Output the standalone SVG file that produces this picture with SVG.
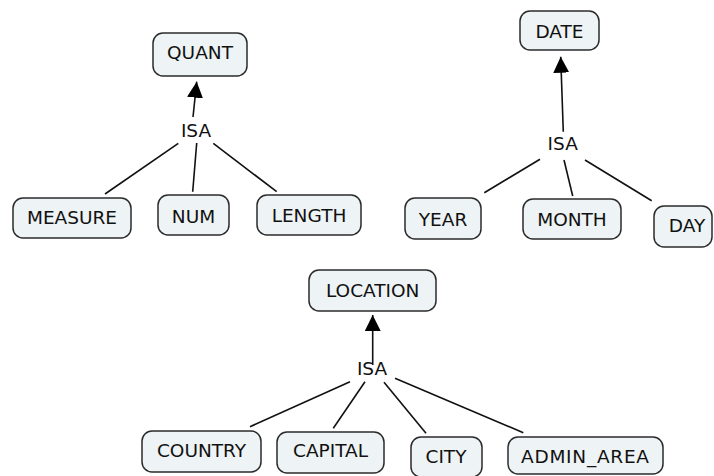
<svg xmlns="http://www.w3.org/2000/svg" width="714" height="476" viewBox="0 0 714 476">
<defs>
<marker id="arr" viewBox="0 0 16 16" refX="16" refY="8" markerWidth="16" markerHeight="16" markerUnits="userSpaceOnUse" orient="auto">
<path d="M0,0 L16,8 L0,16 z" fill="#000"/>
</marker>
<style>
.box{fill:#eef3f5;stroke:#2b2b2b;stroke-width:1.5}
.t{font-family:"DejaVu Sans","Verdana",sans-serif;font-size:18.5px;fill:#111;text-anchor:middle}
.c{stroke:#111;stroke-width:1.6;fill:none}
</style>
</defs>
<rect width="714" height="476" fill="#fff"/>
<g id="connectors">
<line class="c" x1="193" y1="117" x2="196.7" y2="81.7" marker-end="url(#arr)"/>
<line class="c" x1="178.3" y1="143.3" x2="105" y2="194"/>
<line class="c" x1="196.7" y1="143" x2="192.7" y2="191.7"/>
<line class="c" x1="213.3" y1="143.3" x2="276.7" y2="191.7"/>
<line class="c" x1="563.3" y1="131.7" x2="560.7" y2="56.7" marker-end="url(#arr)"/>
<line class="c" x1="540" y1="159.3" x2="484.3" y2="192.7"/>
<line class="c" x1="564" y1="160" x2="572.7" y2="196"/>
<line class="c" x1="585" y1="160" x2="651.7" y2="200.7"/>
<line class="c" x1="372.7" y1="365" x2="372.7" y2="315" marker-end="url(#arr)"/>
<line class="c" x1="350" y1="381.7" x2="250" y2="426.7"/>
<line class="c" x1="365" y1="381.7" x2="333.3" y2="428.3"/>
<line class="c" x1="384" y1="382.3" x2="426" y2="433.3"/>
<line class="c" x1="395" y1="378.3" x2="523.3" y2="432.7"/>
</g>
<g id="isa1"><text class="t" x="196" y="137">ISA</text></g>
<g id="isa2"><text class="t" x="562.7" y="150">ISA</text></g>
<g id="isa3"><text class="t" x="372" y="375">ISA</text></g>
<g id="quant"><rect class="box" x="153" y="33" width="94" height="43" rx="10"/><text class="t" x="200" y="59">QUANT</text></g>
<g id="measure"><rect class="box" x="13" y="198" width="118" height="40" rx="10"/><text class="t" x="72" y="224">MEASURE</text></g>
<g id="num"><rect class="box" x="158" y="195" width="71" height="40" rx="10"/><text class="t" x="193.5" y="222.5">NUM</text></g>
<g id="length"><rect class="box" x="257" y="195" width="104" height="40" rx="10"/><text class="t" x="309" y="221.5">LENGTH</text></g>
<g id="date"><rect class="box" x="520" y="11" width="79" height="39" rx="10"/><text class="t" x="559.5" y="38">DATE</text></g>
<g id="year"><rect class="box" x="405" y="198" width="76" height="41" rx="10"/><text class="t" x="443" y="226">YEAR</text></g>
<g id="month"><rect class="box" x="523" y="199" width="98" height="40" rx="10"/><text class="t" x="572" y="226">MONTH</text></g>
<g id="day"><rect class="box" x="654" y="206" width="58" height="41" rx="10"/><text class="t" x="687" y="232">DAY</text></g>
<g id="location"><rect class="box" x="309" y="270" width="127" height="41" rx="10"/><text class="t" x="372.7" y="296.7">LOCATION</text></g>
<g id="country"><rect class="box" x="142" y="431" width="119" height="41" rx="10"/><text class="t" x="201.5" y="456.7">COUNTRY</text></g>
<g id="capital"><rect class="box" x="277" y="432" width="107" height="41" rx="10"/><text class="t" x="330.5" y="456.7">CAPITAL</text></g>
<g id="city"><rect class="box" x="411" y="437" width="71" height="40" rx="10"/><text class="t" x="446" y="463">CITY</text></g>
<g id="admin_area"><rect class="box" x="508" y="437" width="155" height="37" rx="10"/><text class="t" x="585" y="463" textLength="128" lengthAdjust="spacing">ADMIN_AREA</text></g>
</svg>
